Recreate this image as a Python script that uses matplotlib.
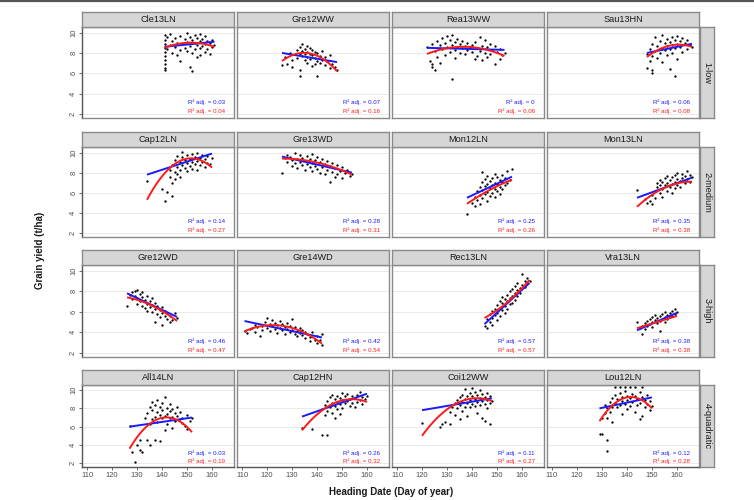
import numpy as np
import matplotlib
matplotlib.use("Agg")
import matplotlib.pyplot as plt
from matplotlib.lines import Line2D

plt.rcParams['font.family'] = ['Liberation Sans', 'DejaVu Sans']

# ---------------- data ----------------
panel_names = ["Cle13LN", "Gre12WW", "Rea13WW", "Sau13HN",
               "Cap12LN", "Gre13WD", "Mon12LN", "Mon13LN",
               "Gre12WD", "Gre14WD", "Rec13LN", "Vra13LN",
               "All14LN", "Cap12HN", "Coi12WW", "Lou12LN"]
row_labels = ["1-low", "2-medium", "3-high", "4-quadratic"]
x_ticks = [110, 120, 130, 140, 150, 160]
y_ticks = [2, 4, 6, 8, 10]

cle13ln = [(141,9.8),(141,9.3),(141,8.9),(141,8.5),(141,8.1),(141,7.7),(141,7.3),(141,6.9),(141,6.5),(141,6.3),
           (142,9.6),(142,8.4),(143,9.9),(143,8.8),(144,9.2),(144,8.0),(145,9.5),(145,8.6),(146,9.0),(146,7.8),
           (147,9.7),(147,8.3),(147,7.2),(148,8.9),(149,9.4),(149,8.5),(150,10.0),(150,9.1),(150,8.2),(151,9.6),
           (151,8.7),(151,6.6),(152,9.3),(152,8.0),(152,6.2),(153,9.8),(153,9.0),(153,8.4),(154,9.5),(154,8.8),
           (154,7.6),(155,9.9),(155,9.2),(155,8.5),(155,7.8),(156,9.4),(156,8.7),(157,9.7),(157,8.9),(157,8.1),
           (158,9.2),(158,8.4),(159,9.0),(159,7.9),(160,9.3),(160,8.6),(161,8.8)]
gre12ww = [(126,6.8),(127,7.6),(128,6.9),(129,8.0),(130,7.3),(130,6.6),(131,7.9),(132,8.3),(132,7.5),(133,8.6),
           (133,7.9),(133,6.3),(133,5.7),(134,8.9),(134,8.2),(134,7.7),(135,8.4),(135,7.9),(135,7.3),(136,8.7),
           (136,8.1),(136,7.6),(136,7.0),(137,8.5),(137,7.9),(137,7.4),(138,8.3),(138,7.8),(138,6.7),(139,8.1),
           (139,7.5),(139,6.9),(140,8.0),(140,7.2),(140,5.7),(141,7.7),(141,7.0),(142,8.2),(142,7.3),(143,7.6),
           (143,6.8),(144,7.2),(145,7.8),(145,6.5),(146,6.9),(147,6.6),(148,6.3)]
rea13ww = [(122,8.6),(123,7.2),(124,6.9),(124,8.9),(124,6.6),(125,6.3),(125,8.2),(126,9.2),(126,7.6),(127,8.8),
           (127,7.0),(128,9.5),(128,8.4),(129,9.0),(129,7.8),(130,9.7),(130,8.6),(131,9.3),(131,8.1),(132,9.8),
           (132,8.8),(132,5.4),(133,9.1),(133,8.3),(133,7.5),(134,9.4),(134,8.6),(135,8.9),(135,8.0),(136,9.2),
           (136,8.5),(137,8.7),(137,7.9),(138,9.0),(138,8.3),(139,8.6),(140,8.8),(140,8.1),(141,9.1),(141,7.4),
           (142,8.5),(142,7.7),(143,9.6),(143,8.2),(144,8.7),(144,7.3),(145,9.3),(145,8.0),(146,8.6),(146,7.6),
           (147,8.9),(147,7.9),(148,8.3),(149,6.9),(149,8.7),(150,8.1),(151,8.4),(151,7.4),(152,7.8),(153,8.0)]
sau13hn = [(148,7.9),(148,6.5),(149,8.4),(149,7.2),(150,8.9),(150,7.7),(150,6.3),(150,6.0),(151,9.6),(151,8.2),
           (152,8.7),(152,7.5),(153,9.2),(153,8.0),(154,9.8),(154,8.5),(154,7.1),(155,9.0),(155,8.3),(156,9.4),
           (156,8.7),(156,7.8),(157,9.1),(157,8.4),(157,6.4),(158,9.6),(158,8.8),(158,8.0),(159,9.3),(159,8.5),
           (159,5.7),(160,9.7),(160,8.9),(160,7.4),(161,9.2),(161,8.6),(162,9.5),(162,8.1),(163,9.0),(164,9.3),
           (164,8.4),(165,8.8),(166,8.6)]
cap12ln = [(134,7.2),(140,6.4),(142,6.1),(141,5.2),(144,5.7),(143,7.6),(143,8.3),(144,7.0),(144,8.8),(145,7.4),
           (145,8.1),(145,9.3),(146,7.9),(146,8.6),(146,9.7),(147,8.3),(147,9.1),(147,7.6),(148,8.8),(148,9.6),
           (148,10.1),(149,8.5),(149,9.3),(150,9.0),(150,9.8),(150,8.2),(151,9.4),(151,8.7),(152,9.9),(152,9.1),
           (152,8.4),(153,9.6),(153,8.9),(154,9.2),(154,10.0),(154,8.3),(155,9.5),(155,8.8),(156,9.1),(156,9.8),
           (157,9.4),(157,8.6),(158,9.0),(158,9.7),(159,8.9),(160,9.5)]
gre13wd = [(126,8.0),(127,9.5),(128,9.8),(128,9.1),(129,9.6),(130,9.3),(130,8.7),(131,10.0),(131,9.0),(132,9.4),
           (132,8.5),(133,9.8),(133,9.1),(134,9.5),(134,8.8),(135,9.2),(135,8.3),(136,9.7),(136,8.9),(137,9.4),
           (137,8.6),(138,9.9),(138,9.0),(138,8.2),(139,9.3),(139,8.7),(140,9.6),(140,8.4),(141,9.1),(141,8.0),
           (142,9.4),(142,8.6),(143,8.9),(143,7.9),(144,9.2),(144,8.3),(145,8.7),(145,7.1),(146,9.0),(146,8.1),
           (147,8.5),(147,7.6),(148,8.8),(148,7.9),(149,8.2),(150,8.6),(150,7.5),(151,8.0),(152,8.3),(153,7.7),
           (154,7.9)]
mon12ln = [(138,3.9),(140,5.0),(141,4.7),(141,5.6),(142,5.3),(142,6.2),(143,4.9),(143,5.8),(143,6.6),(144,5.5),
           (144,6.3),(144,7.1),(144,8.1),(145,5.9),(145,6.7),(145,7.4),(146,5.2),(146,6.1),(146,6.9),(146,7.7),
           (147,5.7),(147,6.5),(147,7.2),(148,6.0),(148,6.8),(148,7.5),(149,5.6),(149,6.4),(149,7.0),(149,7.9),
           (150,6.2),(150,6.9),(150,7.6),(151,5.9),(151,6.6),(151,7.3),(152,6.4),(152,7.1),(152,7.8),(153,6.8),
           (153,7.5),(154,7.0),(154,8.2),(155,7.3),(156,8.4)]
mon13ln = [(144,6.3),(147,5.4),(148,5.0),(149,5.2),(150,4.9),(150,5.8),(151,6.2),(151,5.5),(152,6.6),(152,7.0),
           (153,6.0),(153,6.8),(153,7.3),(154,6.4),(154,7.1),(154,5.6),(155,6.8),(155,7.5),(156,6.2),(156,7.0),
           (156,7.7),(157,6.6),(157,7.3),(158,6.9),(158,7.6),(158,6.0),(159,7.1),(159,7.8),(159,6.5),(160,6.8),
           (160,7.4),(160,8.0),(161,7.2),(161,6.6),(162,7.5),(162,7.9),(163,7.0),(163,7.7),(164,7.4),(164,8.2),
           (165,7.1),(165,7.8),(166,7.6)]
gre12wd = [(126,6.6),(127,7.6),(128,7.9),(128,7.2),(129,7.5),(129,8.0),(130,8.1),(130,7.3),(130,6.8),(131,7.7),
           (131,7.0),(132,7.4),(132,6.6),(132,7.9),(133,7.1),(133,6.4),(134,7.5),(134,6.8),(134,6.1),(135,7.0),
           (135,6.5),(136,6.7),(136,6.0),(136,7.3),(137,6.3),(137,5.0),(137,6.9),(138,6.6),(138,5.8),(139,6.2),
           (139,5.5),(140,6.5),(140,4.7),(140,5.9),(141,5.6),(141,6.1),(142,5.3),(142,5.9),(143,5.0),(143,5.6),
           (144,5.2),(145,5.9),(146,5.4)]
gre14wd = [(111,4.1),(112,3.9),(113,4.3),(114,4.4),(115,4.0),(115,4.7),(116,4.5),(117,3.6),(118,4.6),(118,4.2),
           (119,5.0),(120,4.4),(120,5.4),(121,4.8),(121,4.1),(122,4.6),(122,5.2),(123,4.3),(123,4.9),(124,4.7),
           (124,3.9),(125,5.1),(125,4.4),(126,4.8),(126,4.2),(127,4.5),(127,3.8),(128,4.9),(128,4.3),(129,4.0),
           (129,4.6),(130,5.3),(130,4.2),(131,3.8),(131,4.5),(132,4.1),(132,3.6),(133,4.4),(133,3.9),(134,3.7),
           (134,4.2),(135,3.4),(135,4.0),(136,3.8),(137,3.5),(137,3.2),(138,4.0),(139,3.3),(140,3.6),(140,3.0),
           (141,3.3),(142,2.8),(142,3.8)]
rec13ln = [(145,4.6),(146,5.3),(146,4.4),(147,5.8),(147,5.0),(148,6.1),(148,5.4),(148,4.7),(149,6.3),(149,5.7),
           (150,6.7),(150,5.9),(150,5.2),(151,6.4),(151,7.0),(151,5.6),(152,6.2),(152,6.9),(152,7.4),(153,6.6),
           (153,7.2),(153,5.9),(154,7.0),(154,7.6),(154,6.3),(155,7.3),(155,6.8),(155,8.0),(156,7.5),(156,8.2),
           (156,6.9),(157,7.8),(157,8.5),(157,7.1),(158,8.1),(158,7.5),(158,8.8),(159,8.3),(159,7.8),(160,8.6),
           (160,9.7),(161,8.4),(161,9.0),(162,8.8),(162,9.3),(163,9.0)]
vra13ln = [(144,5.0),(145,4.4),(146,3.8),(146,4.6),(147,4.9),(147,4.3),(148,5.1),(148,4.6),(149,5.3),(149,4.8),
           (150,5.0),(150,5.5),(150,4.5),(151,5.2),(151,5.7),(152,4.9),(152,5.4),(153,4.1),(153,5.6),(153,5.1),
           (154,5.3),(154,5.8),(155,5.5),(155,6.0),(155,5.0),(156,5.7),(156,5.3),(157,5.9),(157,5.5),(158,6.1),
           (158,5.6),(159,5.8),(159,6.3),(160,6.0)]
all14ln = [(128,3.2),(129,2.1),(127,6.1),(130,4.0),(131,3.5),(131,4.5),(132,3.2),(133,6.9),(134,7.5),(134,4.5),
           (135,8.2),(135,6.3),(135,4.0),(136,7.8),(136,8.7),(136,6.8),(137,7.1),(137,8.4),(137,4.6),(138,7.6),
           (138,8.9),(138,6.5),(139,7.3),(139,8.1),(139,4.4),(140,6.9),(140,7.8),(140,8.6),(141,7.2),(141,9.2),
           (141,5.6),(142,8.0),(142,7.4),(142,6.3),(143,7.7),(143,8.5),(143,6.9),(144,7.1),(144,7.9),(144,5.9),
           (145,7.5),(145,6.6),(146,7.2),(146,8.2),(147,6.8),(147,7.6),(148,6.4),(148,7.0),(149,6.1),(150,7.3),
           (150,5.8),(151,6.6),(152,7.0)]
cap12hn = [(134,5.9),(138,5.8),(142,5.1),(144,5.1),(147,7.0),(149,7.4),(142,7.9),(143,8.4),(143,7.3),(144,8.8),
           (144,7.7),(145,9.2),(145,8.1),(146,8.6),(146,9.5),(146,7.5),(147,8.3),(147,9.0),(148,8.7),(148,9.4),
           (148,7.9),(149,8.5),(149,9.1),(150,8.9),(150,9.7),(150,8.0),(151,8.6),(151,9.3),(152,8.8),(152,9.6),
           (153,8.3),(153,9.0),(154,9.4),(154,8.6),(155,9.1),(155,8.2),(156,9.5),(156,8.7),(157,8.9),(157,9.8),
           (158,8.5),(158,9.2),(159,9.0),(160,9.4)]
coi12ww = [(120,6.4),(127,6.0),(128,6.3),(129,6.5),(131,6.3),(131,7.6),(132,8.1),(133,8.6),(133,7.3),(134,8.9),
           (134,8.0),(135,9.2),(135,8.4),(135,6.8),(136,8.7),(136,9.5),(136,7.7),(137,9.0),(137,8.2),(137,10.1),
           (138,8.6),(138,9.4),(138,7.2),(139,8.9),(139,9.7),(139,8.1),(140,9.3),(140,8.5),(140,10.2),(141,9.0),
           (141,8.3),(141,9.8),(142,8.7),(142,9.5),(142,7.5),(143,9.1),(143,8.4),(143,10.0),(144,8.8),(144,9.6),
           (144,7.0),(145,9.2),(145,8.5),(145,6.6),(146,8.9),(146,9.7),(146,8.0),(147,8.6),(147,6.3),(147,9.3),
           (148,8.8)]
lou12ln = [(129,5.2),(130,5.2),(132,4.6),(132,3.3),(130,6.9),(131,7.5),(131,8.4),(132,8.0),(132,7.0),(133,8.7),
           (133,7.6),(134,9.1),(134,8.2),(134,6.5),(135,9.5),(135,8.6),(135,10.3),(136,8.1),(136,9.0),(137,9.7),
           (137,8.4),(137,10.3),(138,9.2),(138,8.8),(138,7.4),(139,9.9),(139,8.5),(139,10.3),(140,9.4),(140,8.9),
           (140,7.9),(141,10.3),(141,9.1),(141,8.3),(142,9.6),(142,8.7),(143,10.3),(143,9.3),(143,7.6),(144,9.0),
           (144,8.4),(145,9.8),(145,8.6),(145,6.8),(146,10.3),(146,9.2),(146,7.2),(147,8.9),(147,8.1),(148,9.5),
           (148,8.5),(149,8.8),(149,7.8),(150,8.3)]

panel_points = [cle13ln, gre12ww, rea13ww, sau13hn,
                cap12ln, gre13wd, mon12ln, mon13ln,
                gre12wd, gre14wd, rec13ln, vra13ln,
                all14ln, cap12hn, coi12ww, lou12ln]

# fitted lines: linear (blue) and quadratic (red)
fit_x0  = [141, 126, 122, 148, 134, 126, 138, 144, 126, 111, 145, 144, 127, 134, 120, 129]
fit_x1  = [161, 148, 153, 166, 160, 154, 156, 166, 146, 142, 163, 160, 152, 160, 148, 150]
lin_y0  = [8.6, 8.0, 8.5, 8.0, 7.8, 9.6, 5.5, 5.5, 7.8, 5.1, 4.8, 4.2, 6.0, 7.1, 7.8, 8.0]
lin_y1  = [9.1, 7.1, 8.3, 8.9, 9.9, 8.0, 7.6, 7.5, 5.5, 3.5, 8.8, 5.9, 7.0, 9.6, 9.1, 9.2]
quad_xm = [153, 134, 138, 162, 153, 140, 148, 156, 136, 122, 154, 152, 141, 154, 141, 140]
quad_y0 = [8.5, 7.2, 7.9, 7.6, 5.3, 9.4, 4.9, 4.6, 7.4, 4.1, 5.4, 4.4, 3.6, 5.6, 5.0, 6.6]
quad_ym = [9.0, 8.0, 8.6, 8.8, 9.4, 9.0, 6.4, 6.6, 6.6, 4.7, 6.9, 5.0, 7.0, 9.0, 9.1, 9.2]
quad_y1 = [8.6, 6.2, 7.7, 8.6, 8.5, 7.8, 7.3, 7.1, 5.1, 2.9, 9.1, 5.6, 5.4, 8.7, 8.8, 8.0]
r2_lin  = ["0.03", "0.07", "0", "0.06", "0.14", "0.28", "0.25", "0.35",
           "0.46", "0.42", "0.57", "0.38", "0.03", "0.26", "0.11", "0.12"]
r2_quad = ["0.04", "0.16", "0.06", "0.08", "0.27", "0.31", "0.26", "0.38",
           "0.47", "0.54", "0.57", "0.38", "0.19", "0.32", "0.27", "0.28"]

# ---------------- layout ----------------
W, H = 754, 500
fig = plt.figure(figsize=(W / 100, H / 100), dpi=100)
fig.patch.set_facecolor('white')

def frac(x0, y0, x1, y1):
    return [x0 / W, 1 - y1 / H, (x1 - x0) / W, (y1 - y0) / H]

col_left = [82, 237, 392, 547]
col_w = 152
row_top = [27, 147, 265, 385]
row_bot = [118, 237, 357, 467]
strip_h = 15
XLIM = (108, 168.8)
YLIM = (1.6, 10.55)

BORDER = '#8a8a8a'
STRIP_FILL = '#d6d6d6'
TXT = '#1a1a1a'
TICK_TXT = '#4d4d4d'
BLUE = '#1a1aff'
RED = '#ff1a1a'

# top border line (as in reference image)
fig.add_artist(Line2D([0, 1], [0.998, 0.998], transform=fig.transFigure,
                      color='#555555', lw=1.6))

for i, name in enumerate(panel_names):
    r, c = divmod(i, 4)
    x0 = col_left[c]
    ax = fig.add_axes(frac(x0, row_top[r], x0 + col_w, row_bot[r]))
    ax.set_xlim(*XLIM)
    ax.set_ylim(*YLIM)
    ax.set_facecolor('white')
    for yv in y_ticks:
        ax.axhline(yv, color='#e6e6e6', lw=0.6, zorder=0)
    for s in ax.spines.values():
        s.set_color(BORDER)
        s.set_linewidth(1.0)
    if c == 0:
        ax.spines['left'].set_color('#555555')
    if r == 3:
        ax.spines['bottom'].set_color('#555555')

    pts = panel_points[i]
    px = [p[0] for p in pts]
    py = [p[1] for p in pts]
    ax.scatter(px, py, s=2.8, c='black', linewidths=0, zorder=3)

    # linear fit
    ax.plot([fit_x0[i], fit_x1[i]], [lin_y0[i], lin_y1[i]], color=BLUE, lw=1.4,
            zorder=4, solid_capstyle='butt')
    # quadratic fit through three read points
    coef = np.polyfit([fit_x0[i], quad_xm[i], fit_x1[i]],
                      [quad_y0[i], quad_ym[i], quad_y1[i]], 2)
    xs = np.linspace(fit_x0[i], fit_x1[i], 80)
    ax.plot(xs, np.polyval(coef, xs), color=RED, lw=1.4, zorder=5,
            solid_capstyle='butt')

    ax.text(165.2, 3.15, "R\u00b2 adj. = " + r2_lin[i], color=BLUE, fontsize=4.4,
            ha='right', va='center', zorder=6)
    ax.text(165.2, 2.25, "R\u00b2 adj. = " + r2_quad[i], color=RED, fontsize=4.4,
            ha='right', va='center', zorder=6)

    ax.set_yticks(y_ticks)
    ax.set_xticks(x_ticks)
    ax.tick_params(axis='both', length=2.0, width=0.6, color='#555555',
                   labelsize=5.4, labelcolor=TICK_TXT, pad=1.5)
    if c == 0:
        ax.set_yticklabels([str(v) for v in y_ticks], rotation=90, va='center')
    else:
        ax.tick_params(axis='y', left=False, labelleft=False)
    if r == 3:
        ax.set_xticklabels([str(v) for v in x_ticks])
    else:
        ax.tick_params(axis='x', bottom=False, labelbottom=False)

    # top strip
    sax = fig.add_axes(frac(x0, row_top[r] - strip_h, x0 + col_w, row_top[r]))
    sax.set_facecolor(STRIP_FILL)
    sax.set_xticks([]); sax.set_yticks([])
    for s in sax.spines.values():
        s.set_color(BORDER); s.set_linewidth(1.0)
    sax.text(0.5, 0.5, name, ha='center', va='center', fontsize=6.6, color=TXT,
             transform=sax.transAxes)

# right strips
for r, lab in enumerate(row_labels):
    sax = fig.add_axes(frac(700, row_top[r], 714, row_bot[r]))
    sax.set_facecolor(STRIP_FILL)
    sax.set_xticks([]); sax.set_yticks([])
    for s in sax.spines.values():
        s.set_color(BORDER); s.set_linewidth(1.0)
    sax.text(0.5, 0.5, lab, ha='center', va='center', fontsize=6.6, color=TXT,
             rotation=270, transform=sax.transAxes)

fig.text(391 / W, 1 - 492 / H, "Heading Date (Day of year)", ha='center', va='center',
         fontsize=7, fontweight='bold', color=TXT)
fig.text(40 / W, 1 - 250 / H, "Grain yield (t/ha)", ha='center', va='center',
         fontsize=7, fontweight='bold', color=TXT, rotation=90)

fig.savefig("out.png", dpi=100, facecolor='white')
